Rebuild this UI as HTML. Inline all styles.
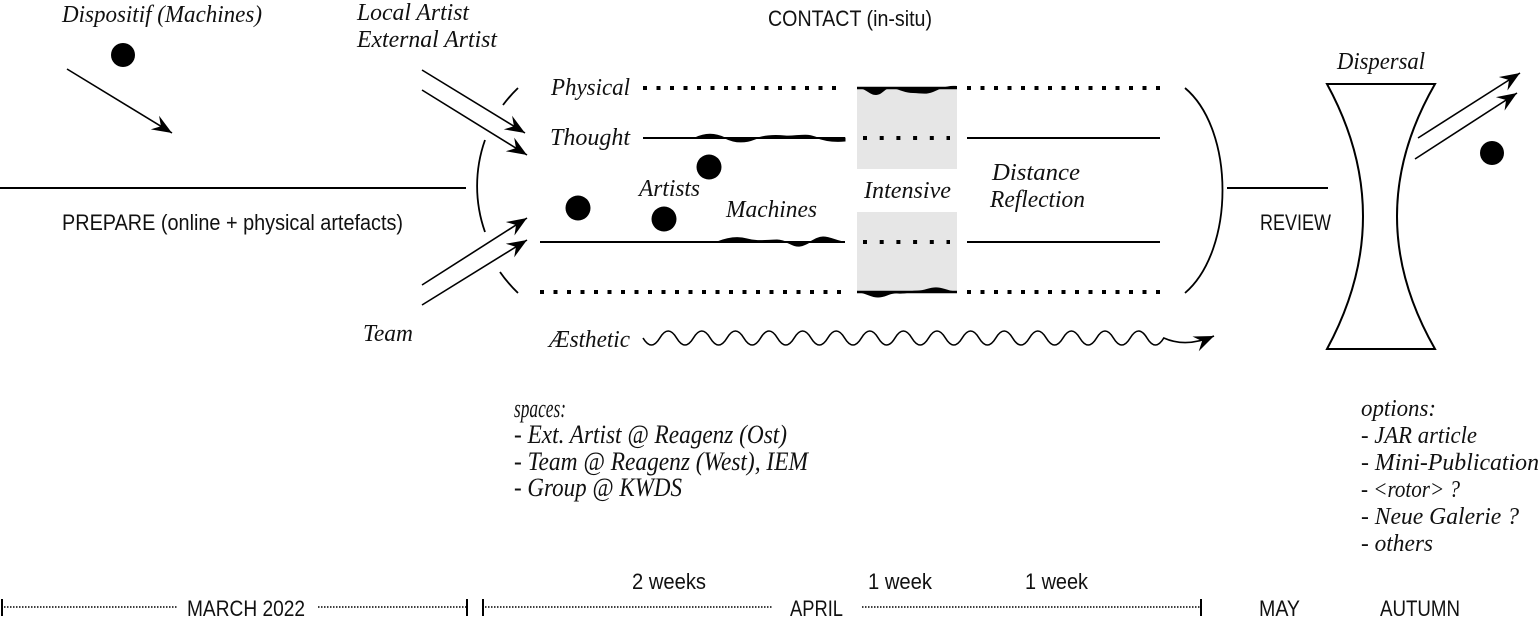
<!DOCTYPE html>
<html><head><meta charset="utf-8"><style>
html,body{margin:0;padding:0;background:#fff;}
svg{display:block;}
.s{font-family:"Liberation Serif",serif;font-style:italic;font-size:24px;fill:#111;}
.c{font-family:"Liberation Serif",serif;font-style:italic;font-size:26px;fill:#111;}
.n{font-family:"Liberation Sans",sans-serif;font-size:22px;fill:#111;}
</style></head><body>
<svg width="1540" height="630" viewBox="0 0 1540 630" xmlns="http://www.w3.org/2000/svg">
<defs>
<marker id="ah" viewBox="-21 -9 22 18" refX="0" refY="0" markerWidth="22" markerHeight="18" markerUnits="userSpaceOnUse" orient="auto">
<path d="M0,0 L-20,-8 L-13,0 L-20,8 z" fill="#000"/>
</marker>
</defs>

<!-- grey boxes -->
<rect x="857" y="88" width="100" height="81" fill="#e6e6e6"/>
<rect x="857" y="212" width="100" height="80" fill="#e6e6e6"/>

<!-- top-left -->
<text class="s" x="62" y="22" textLength="200" lengthAdjust="spacingAndGlyphs">Dispositif (Machines)</text>
<circle cx="123" cy="55" r="12" fill="#000"/>
<line x1="67" y1="69" x2="172" y2="133" stroke="#000" stroke-width="1.6" marker-end="url(#ah)"/>

<text class="s" x="357" y="20" textLength="112" lengthAdjust="spacingAndGlyphs">Local Artist</text>
<text class="s" x="357" y="47" textLength="140" lengthAdjust="spacingAndGlyphs">External Artist</text>
<line x1="422" y1="70" x2="525" y2="133" stroke="#000" stroke-width="1.6" marker-end="url(#ah)"/>
<line x1="422" y1="90" x2="527" y2="155" stroke="#000" stroke-width="1.6" marker-end="url(#ah)"/>
<line x1="422" y1="285" x2="527" y2="218" stroke="#000" stroke-width="1.6" marker-end="url(#ah)"/>
<line x1="422" y1="305" x2="527" y2="240" stroke="#000" stroke-width="1.6" marker-end="url(#ah)"/>
<text class="s" x="363" y="341" textLength="50" lengthAdjust="spacingAndGlyphs">Team</text>

<!-- prepare -->
<line x1="0" y1="188" x2="466" y2="188" stroke="#000" stroke-width="2"/>
<text class="n" x="62" y="230" textLength="341" lengthAdjust="spacingAndGlyphs">PREPARE (online + physical artefacts)</text>

<!-- left bracket arcs -->
<path d="M503,105 A138,138 0 0 1 518,88" fill="none" stroke="#000" stroke-width="1.8"/>
<path d="M485,140 A138,138 0 0 0 485,232" fill="none" stroke="#000" stroke-width="1.8"/>
<path d="M500,272 A138,138 0 0 0 518,293" fill="none" stroke="#000" stroke-width="1.8"/>

<text class="n" x="768" y="26" textLength="164" lengthAdjust="spacingAndGlyphs">CONTACT (in-situ)</text>

<!-- Physical row y=88 -->
<text class="s" x="551" y="95" textLength="79" lengthAdjust="spacingAndGlyphs">Physical</text>
<line x1="643" y1="88" x2="845" y2="88" stroke="#000" stroke-width="4" stroke-dasharray="4 9.5"/>
<line x1="857" y1="88" x2="957" y2="88" stroke="#000" stroke-width="2.5"/>
<path d="M857,88 C866,88 869,95 876,95 S886,86 893,88 S906,93 913,93 S926,95 933,92 S946,85 957,86 L957,88 L857,88 Z" fill="#000"/>
<line x1="967" y1="88" x2="1160" y2="88" stroke="#000" stroke-width="4" stroke-dasharray="4 9.5"/>

<!-- Thought row y=138 -->
<text class="s" x="550" y="145" textLength="80" lengthAdjust="spacingAndGlyphs">Thought</text>
<line x1="643" y1="138" x2="845" y2="138" stroke="#000" stroke-width="2"/>
<path d="M695,138 C705,133 715,133 725,138 S745,143 755,139 S775,135 785,136 S805,133 815,137 S835,142 845,141 L845,138 Z" fill="#000" stroke="#000" stroke-width="1"/>
<line x1="863" y1="138" x2="950" y2="138" stroke="#000" stroke-width="4" stroke-dasharray="4 12.7"/>
<line x1="967" y1="138" x2="1160" y2="138" stroke="#000" stroke-width="2"/>

<!-- middle labels and dots -->
<circle cx="709" cy="167" r="12.5" fill="#000"/>
<circle cx="578" cy="208" r="12.5" fill="#000"/>
<circle cx="664" cy="219" r="12.5" fill="#000"/>
<text class="s" x="639" y="196" textLength="61" lengthAdjust="spacingAndGlyphs">Artists</text>
<text class="s" x="726" y="217" textLength="91" lengthAdjust="spacingAndGlyphs">Machines</text>
<text class="s" x="864" y="198" textLength="87" lengthAdjust="spacingAndGlyphs">Intensive</text>
<text class="s" x="992" y="180" textLength="88" lengthAdjust="spacingAndGlyphs">Distance</text>
<text class="s" x="990" y="207" textLength="95" lengthAdjust="spacingAndGlyphs">Reflection</text>

<!-- third row y=242 -->
<line x1="540" y1="242" x2="845" y2="242" stroke="#000" stroke-width="2"/>
<path d="M717,242 C727,238 737,236 747,239 S767,240 777,240 S792,247 800,246 S815,237 823,237 S838,242 845,242 Z" fill="#000" stroke="#000" stroke-width="1"/>
<line x1="863" y1="242" x2="950" y2="242" stroke="#000" stroke-width="4" stroke-dasharray="4 12.7"/>
<line x1="967" y1="242" x2="1160" y2="242" stroke="#000" stroke-width="2"/>

<!-- bottom row y=292 -->
<line x1="540" y1="292" x2="845" y2="292" stroke="#000" stroke-width="4" stroke-dasharray="4 9.5"/>
<line x1="857" y1="292" x2="957" y2="292" stroke="#000" stroke-width="2.5"/>
<path d="M857,292 C866,292 870,297 878,297 S890,292 898,293 S910,291 918,291 S930,287 938,288 S950,292 957,292 Z" fill="#000" stroke="#000" stroke-width="1"/>
<line x1="967" y1="292" x2="1160" y2="292" stroke="#000" stroke-width="4" stroke-dasharray="4 9.5"/>

<!-- right arc -->
<path d="M1185,88 C1235,130 1235,250 1185,293" fill="none" stroke="#000" stroke-width="1.8"/>
<line x1="1227" y1="188" x2="1328" y2="188" stroke="#000" stroke-width="2"/>
<text class="n" x="1260" y="230" textLength="71" lengthAdjust="spacingAndGlyphs">REVIEW</text>

<!-- lens -->
<text class="s" x="1337" y="69" textLength="88" lengthAdjust="spacingAndGlyphs">Dispersal</text>
<path d="M1327,84 L1435,84 Q1359,216 1435,349 L1327,349 Q1399,216 1327,84 Z" fill="#fff" stroke="#000" stroke-width="2"/>
<line x1="1418" y1="138" x2="1520" y2="73" stroke="#000" stroke-width="1.6" marker-end="url(#ah)"/>
<line x1="1415" y1="159" x2="1517" y2="93" stroke="#000" stroke-width="1.6" marker-end="url(#ah)"/>
<circle cx="1492" cy="153" r="12" fill="#000"/>

<!-- aesthetic wave -->
<text class="s" x="549" y="347" textLength="81" lengthAdjust="spacingAndGlyphs">Æsthetic</text>
<path d="M643,338 q8.4,14 16.8,0 q8.4,-14 16.8,0 q8.4,14 16.8,0 q8.4,-14 16.8,0 q8.4,14 16.8,0 q8.4,-14 16.8,0 q8.4,14 16.8,0 q8.4,-14 16.8,0 q8.4,14 16.8,0 q8.4,-14 16.8,0 q8.4,14 16.8,0 q8.4,-14 16.8,0 q8.4,14 16.8,0 q8.4,-14 16.8,0 q8.4,14 16.8,0 q8.4,-14 16.8,0 q8.4,14 16.8,0 q8.4,-14 16.8,0 q8.4,14 16.8,0 q8.4,-14 16.8,0 q8.4,14 16.8,0 q8.4,-14 16.8,0 q8.4,14 16.8,0 q8.4,-14 16.8,0 q8.4,14 16.8,0 q8.4,-14 16.8,0 q8.4,14 16.8,0 q8.4,-14 16.8,0 q8.4,14 16.8,0 q8.4,-14 16.8,0 q8.4,14 16.8,0 Q1186,348 1214,336" fill="none" stroke="#000" stroke-width="1.6" marker-end="url(#ah)"/>

<!-- spaces -->
<g class="c">
<text x="514" y="417" textLength="52" lengthAdjust="spacingAndGlyphs">spaces:</text>
<text x="514" y="443" textLength="273" lengthAdjust="spacingAndGlyphs">- Ext. Artist @ Reagenz (Ost)</text>
<text x="514" y="470" textLength="294" lengthAdjust="spacingAndGlyphs">- Team @ Reagenz (West), IEM</text>
<text x="514" y="496" textLength="168" lengthAdjust="spacingAndGlyphs">- Group @ KWDS</text>
</g>

<!-- options -->
<g class="s">
<text x="1361" y="416" textLength="75" lengthAdjust="spacingAndGlyphs">options:</text>
<text x="1361" y="443" textLength="116" lengthAdjust="spacingAndGlyphs">- JAR article</text>
<text x="1361" y="470" textLength="178" lengthAdjust="spacingAndGlyphs">- Mini-Publication</text>
<text x="1361" y="497" textLength="99" lengthAdjust="spacingAndGlyphs">- &lt;rotor&gt; ?</text>
<text x="1361" y="524" textLength="158" lengthAdjust="spacingAndGlyphs">- Neue Galerie ?</text>
<text x="1361" y="551" textLength="72" lengthAdjust="spacingAndGlyphs">- others</text>
</g>

<!-- timeline -->
<g stroke="#000" stroke-width="1.5" stroke-dasharray="1.5 1.5">
<line x1="4" y1="607" x2="177" y2="607"/>
<line x1="318" y1="607" x2="466" y2="607"/>
<line x1="485" y1="607" x2="772" y2="607"/>
<line x1="862" y1="607" x2="1200" y2="607"/>
</g>
<g stroke="#000" stroke-width="2">
<line x1="2" y1="599" x2="2" y2="616"/>
<line x1="467" y1="599" x2="467" y2="616"/>
<line x1="483" y1="599" x2="483" y2="616"/>
<line x1="1201" y1="599" x2="1201" y2="616"/>
</g>
<text class="n" x="187" y="616" textLength="118" lengthAdjust="spacingAndGlyphs">MARCH 2022</text>
<text class="n" x="790" y="616" textLength="53" lengthAdjust="spacingAndGlyphs">APRIL</text>
<text class="n" x="1259" y="616" textLength="41" lengthAdjust="spacingAndGlyphs">MAY</text>
<text class="n" x="1380" y="616" textLength="80" lengthAdjust="spacingAndGlyphs">AUTUMN</text>
<text class="n" x="632" y="589" textLength="74" lengthAdjust="spacingAndGlyphs">2 weeks</text>
<text class="n" x="868" y="589" textLength="64" lengthAdjust="spacingAndGlyphs">1 week</text>
<text class="n" x="1025" y="589" textLength="63" lengthAdjust="spacingAndGlyphs">1 week</text>
</svg>
</body></html>
